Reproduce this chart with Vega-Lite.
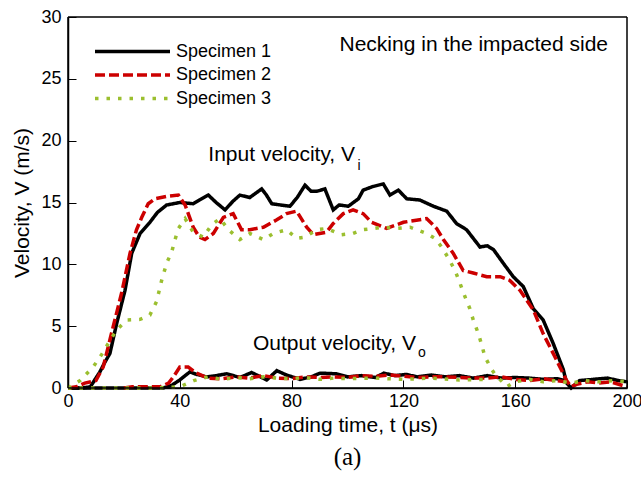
{
"$schema": "https://vega.github.io/schema/vega-lite/v6.json",
"width": 559, "height": 371,
"autosize": {"type": "none"},
"padding": {"left": 68, "top": 17, "right": 14, "bottom": 90},
"config": {
  "font": "Liberation Sans",
  "view": {"stroke": null},
  "axis": {"domain": true, "ticks": true, "domainColor": "black", "domainWidth": 1.5, "tickColor": "black", "tickWidth": 1, "labelColor": "black", "labelFontSize": 18, "labelFont": "Liberation Sans", "labelFlush": false, "labelOverlap": false, "titleFont": "Liberation Sans", "titleFontSize": 21, "titleFontWeight": "normal", "titleColor": "black", "grid": false}
},
"title": {"text": "(a)", "orient": "bottom", "font": "Liberation Serif", "fontSize": 25, "fontWeight": "normal", "color": "black", "offset": 10},
"datasets": {
"d": [
{"s":"Specimen 1","k":"i","t":0,"v":0},{"s":"Specimen 1","k":"i","t":5,"v":0},{"s":"Specimen 1","k":"i","t":8,"v":0.1},{"s":"Specimen 1","k":"i","t":11.4,"v":1.3},{"s":"Specimen 1","k":"i","t":13,"v":2.0},{"s":"Specimen 1","k":"i","t":15,"v":2.8},{"s":"Specimen 1","k":"i","t":17.4,"v":5.2},{"s":"Specimen 1","k":"i","t":20.4,"v":7.9},{"s":"Specimen 1","k":"i","t":22.8,"v":10.9},{"s":"Specimen 1","k":"i","t":25.8,"v":12.5},{"s":"Specimen 1","k":"i","t":29.3,"v":13.4},{"s":"Specimen 1","k":"i","t":32,"v":14.2},{"s":"Specimen 1","k":"i","t":35.3,"v":14.8},{"s":"Specimen 1","k":"i","t":40,"v":15.0},{"s":"Specimen 1","k":"i","t":44.8,"v":14.9},{"s":"Specimen 1","k":"i","t":47,"v":15.2},{"s":"Specimen 1","k":"i","t":50.2,"v":15.6},{"s":"Specimen 1","k":"i","t":53,"v":15.0},{"s":"Specimen 1","k":"i","t":56.2,"v":14.4},{"s":"Specimen 1","k":"i","t":59,"v":15.1},{"s":"Specimen 1","k":"i","t":61.5,"v":15.6},{"s":"Specimen 1","k":"i","t":65,"v":15.4},{"s":"Specimen 1","k":"i","t":69.3,"v":16.1},{"s":"Specimen 1","k":"i","t":71,"v":15.6},{"s":"Specimen 1","k":"i","t":72.9,"v":14.9},{"s":"Specimen 1","k":"i","t":76,"v":14.8},{"s":"Specimen 1","k":"i","t":79.4,"v":14.7},{"s":"Specimen 1","k":"i","t":82,"v":15.4},{"s":"Specimen 1","k":"i","t":84.8,"v":16.4},{"s":"Specimen 1","k":"i","t":87,"v":15.9},{"s":"Specimen 1","k":"i","t":89,"v":15.9},{"s":"Specimen 1","k":"i","t":91.9,"v":16.1},{"s":"Specimen 1","k":"i","t":94.9,"v":14.4},{"s":"Specimen 1","k":"i","t":97,"v":14.8},{"s":"Specimen 1","k":"i","t":100.3,"v":14.7},{"s":"Specimen 1","k":"i","t":103.9,"v":15.3},{"s":"Specimen 1","k":"i","t":105.6,"v":16.0},{"s":"Specimen 1","k":"i","t":109.2,"v":16.3},{"s":"Specimen 1","k":"i","t":112.8,"v":16.5},{"s":"Specimen 1","k":"i","t":115.2,"v":15.6},{"s":"Specimen 1","k":"i","t":118.2,"v":16.0},{"s":"Specimen 1","k":"i","t":121.2,"v":15.3},{"s":"Specimen 1","k":"i","t":125.9,"v":15.2},{"s":"Specimen 1","k":"i","t":130.7,"v":14.7},{"s":"Specimen 1","k":"i","t":135.5,"v":14.3},{"s":"Specimen 1","k":"i","t":139,"v":13.3},{"s":"Specimen 1","k":"i","t":142.6,"v":12.8},{"s":"Specimen 1","k":"i","t":147.4,"v":11.4},{"s":"Specimen 1","k":"i","t":150,"v":11.5},{"s":"Specimen 1","k":"i","t":152.2,"v":11.2},{"s":"Specimen 1","k":"i","t":155.7,"v":10.1},{"s":"Specimen 1","k":"i","t":159.3,"v":9.0},{"s":"Specimen 1","k":"i","t":162.9,"v":8.2},{"s":"Specimen 1","k":"i","t":166.5,"v":6.4},{"s":"Specimen 1","k":"i","t":170,"v":5.5},{"s":"Specimen 1","k":"i","t":173.6,"v":3.6},{"s":"Specimen 1","k":"i","t":177.2,"v":1.5},{"s":"Specimen 1","k":"i","t":178.4,"v":0.4},{"s":"Specimen 1","k":"i","t":180,"v":0.0},{"s":"Specimen 1","k":"i","t":183,"v":0.6},{"s":"Specimen 1","k":"i","t":188,"v":0.7},{"s":"Specimen 1","k":"i","t":193,"v":0.8},{"s":"Specimen 1","k":"i","t":197,"v":0.6},{"s":"Specimen 1","k":"i","t":200,"v":0.5},
{"s":"Specimen 1","k":"o","t":0,"v":0},{"s":"Specimen 1","k":"o","t":34,"v":0},{"s":"Specimen 1","k":"o","t":37,"v":0.2},{"s":"Specimen 1","k":"o","t":40,"v":0.65},{"s":"Specimen 1","k":"o","t":43.6,"v":1.3},{"s":"Specimen 1","k":"o","t":46,"v":1.1},{"s":"Specimen 1","k":"o","t":49.6,"v":0.9},{"s":"Specimen 1","k":"o","t":53,"v":1.0},{"s":"Specimen 1","k":"o","t":56.8,"v":1.15},{"s":"Specimen 1","k":"o","t":61.5,"v":0.85},{"s":"Specimen 1","k":"o","t":65.7,"v":1.25},{"s":"Specimen 1","k":"o","t":68,"v":1.0},{"s":"Specimen 1","k":"o","t":71.1,"v":0.65},{"s":"Specimen 1","k":"o","t":74.7,"v":1.4},{"s":"Specimen 1","k":"o","t":78.2,"v":1.05},{"s":"Specimen 1","k":"o","t":83,"v":0.7},{"s":"Specimen 1","k":"o","t":87,"v":0.9},{"s":"Specimen 1","k":"o","t":90.2,"v":1.2},{"s":"Specimen 1","k":"o","t":96,"v":1.15},{"s":"Specimen 1","k":"o","t":100,"v":0.9},{"s":"Specimen 1","k":"o","t":105,"v":1.0},{"s":"Specimen 1","k":"o","t":110,"v":0.85},{"s":"Specimen 1","k":"o","t":113,"v":1.2},{"s":"Specimen 1","k":"o","t":117,"v":1.0},{"s":"Specimen 1","k":"o","t":121,"v":1.1},{"s":"Specimen 1","k":"o","t":125,"v":0.9},{"s":"Specimen 1","k":"o","t":130,"v":1.05},{"s":"Specimen 1","k":"o","t":135,"v":0.9},{"s":"Specimen 1","k":"o","t":140,"v":1.0},{"s":"Specimen 1","k":"o","t":145,"v":0.8},{"s":"Specimen 1","k":"o","t":150,"v":1.0},{"s":"Specimen 1","k":"o","t":155,"v":0.8},{"s":"Specimen 1","k":"o","t":160,"v":0.85},{"s":"Specimen 1","k":"o","t":165,"v":0.8},{"s":"Specimen 1","k":"o","t":170,"v":0.7},{"s":"Specimen 1","k":"o","t":175,"v":0.75},{"s":"Specimen 1","k":"o","t":178,"v":0.6},
{"s":"Specimen 2","k":"i","t":0,"v":0},{"s":"Specimen 2","k":"i","t":3,"v":0.1},{"s":"Specimen 2","k":"i","t":6,"v":0.4},{"s":"Specimen 2","k":"i","t":10,"v":0.6},{"s":"Specimen 2","k":"i","t":12.6,"v":1.7},{"s":"Specimen 2","k":"i","t":16.2,"v":5.0},{"s":"Specimen 2","k":"i","t":19.2,"v":7.7},{"s":"Specimen 2","k":"i","t":22.2,"v":10.9},{"s":"Specimen 2","k":"i","t":24.5,"v":12.8},{"s":"Specimen 2","k":"i","t":26.4,"v":13.8},{"s":"Specimen 2","k":"i","t":28.7,"v":14.9},{"s":"Specimen 2","k":"i","t":31.1,"v":15.3},{"s":"Specimen 2","k":"i","t":35.3,"v":15.5},{"s":"Specimen 2","k":"i","t":39.5,"v":15.6},{"s":"Specimen 2","k":"i","t":41.9,"v":14.8},{"s":"Specimen 2","k":"i","t":44.8,"v":13.0},{"s":"Specimen 2","k":"i","t":47,"v":12.2},{"s":"Specimen 2","k":"i","t":49,"v":12.0},{"s":"Specimen 2","k":"i","t":52,"v":12.5},{"s":"Specimen 2","k":"i","t":55.6,"v":13.8},{"s":"Specimen 2","k":"i","t":59.1,"v":14.1},{"s":"Specimen 2","k":"i","t":62.1,"v":12.8},{"s":"Specimen 2","k":"i","t":65.1,"v":12.8},{"s":"Specimen 2","k":"i","t":69.9,"v":13.0},{"s":"Specimen 2","k":"i","t":74.7,"v":13.6},{"s":"Specimen 2","k":"i","t":78.2,"v":14.1},{"s":"Specimen 2","k":"i","t":81.8,"v":14.3},{"s":"Specimen 2","k":"i","t":85.4,"v":13.0},{"s":"Specimen 2","k":"i","t":87.8,"v":12.4},{"s":"Specimen 2","k":"i","t":92.5,"v":12.6},{"s":"Specimen 2","k":"i","t":94.9,"v":13.3},{"s":"Specimen 2","k":"i","t":98.5,"v":14.1},{"s":"Specimen 2","k":"i","t":102,"v":14.4},{"s":"Specimen 2","k":"i","t":105.6,"v":14.1},{"s":"Specimen 2","k":"i","t":108.6,"v":13.4},{"s":"Specimen 2","k":"i","t":114,"v":12.9},{"s":"Specimen 2","k":"i","t":120,"v":13.4},{"s":"Specimen 2","k":"i","t":128.3,"v":13.7},{"s":"Specimen 2","k":"i","t":131.9,"v":12.9},{"s":"Specimen 2","k":"i","t":134.3,"v":12.0},{"s":"Specimen 2","k":"i","t":137.8,"v":10.9},{"s":"Specimen 2","k":"i","t":141.4,"v":9.5},{"s":"Specimen 2","k":"i","t":145,"v":9.3},{"s":"Specimen 2","k":"i","t":149.8,"v":9.0},{"s":"Specimen 2","k":"i","t":154.6,"v":9.0},{"s":"Specimen 2","k":"i","t":158.1,"v":8.7},{"s":"Specimen 2","k":"i","t":161.7,"v":7.9},{"s":"Specimen 2","k":"i","t":166.5,"v":6.3},{"s":"Specimen 2","k":"i","t":170,"v":4.4},{"s":"Specimen 2","k":"i","t":173.6,"v":2.8},{"s":"Specimen 2","k":"i","t":176,"v":1.7},{"s":"Specimen 2","k":"i","t":178.4,"v":0.6},{"s":"Specimen 2","k":"i","t":180,"v":0.1},{"s":"Specimen 2","k":"i","t":182,"v":0.3},{"s":"Specimen 2","k":"i","t":186,"v":0.5},{"s":"Specimen 2","k":"i","t":190,"v":0.4},{"s":"Specimen 2","k":"i","t":194,"v":0.5},{"s":"Specimen 2","k":"i","t":197,"v":0.3},{"s":"Specimen 2","k":"i","t":200,"v":0.1},
{"s":"Specimen 2","k":"o","t":20,"v":0},{"s":"Specimen 2","k":"o","t":23,"v":0.1},{"s":"Specimen 2","k":"o","t":28,"v":0.1},{"s":"Specimen 2","k":"o","t":33,"v":0.1},{"s":"Specimen 2","k":"o","t":36,"v":0.4},{"s":"Specimen 2","k":"o","t":38,"v":1.0},{"s":"Specimen 2","k":"o","t":40,"v":1.7},{"s":"Specimen 2","k":"o","t":43,"v":1.7},{"s":"Specimen 2","k":"o","t":46,"v":1.2},{"s":"Specimen 2","k":"o","t":50,"v":0.8},{"s":"Specimen 2","k":"o","t":55,"v":0.75},{"s":"Specimen 2","k":"o","t":60,"v":0.9},{"s":"Specimen 2","k":"o","t":65,"v":0.8},{"s":"Specimen 2","k":"o","t":70,"v":1.0},{"s":"Specimen 2","k":"o","t":75,"v":0.8},{"s":"Specimen 2","k":"o","t":80,"v":0.75},{"s":"Specimen 2","k":"o","t":85,"v":0.9},{"s":"Specimen 2","k":"o","t":90,"v":0.85},{"s":"Specimen 2","k":"o","t":95,"v":0.9},{"s":"Specimen 2","k":"o","t":100,"v":0.85},{"s":"Specimen 2","k":"o","t":105,"v":1.0},{"s":"Specimen 2","k":"o","t":110,"v":0.95},{"s":"Specimen 2","k":"o","t":115,"v":1.05},{"s":"Specimen 2","k":"o","t":120,"v":0.95},{"s":"Specimen 2","k":"o","t":125,"v":0.85},{"s":"Specimen 2","k":"o","t":130,"v":0.9},{"s":"Specimen 2","k":"o","t":135,"v":0.9},{"s":"Specimen 2","k":"o","t":140,"v":0.85},{"s":"Specimen 2","k":"o","t":145,"v":0.8},{"s":"Specimen 2","k":"o","t":150,"v":0.8},{"s":"Specimen 2","k":"o","t":155,"v":0.9},{"s":"Specimen 2","k":"o","t":160,"v":0.7},{"s":"Specimen 2","k":"o","t":165,"v":0.6},{"s":"Specimen 2","k":"o","t":170,"v":0.75},{"s":"Specimen 2","k":"o","t":175,"v":0.6},{"s":"Specimen 2","k":"o","t":178,"v":0.5},
{"s":"Specimen 3","k":"i","t":0,"v":0},{"s":"Specimen 3","k":"i","t":2,"v":0.3},{"s":"Specimen 3","k":"i","t":4.3,"v":0.6},{"s":"Specimen 3","k":"i","t":9,"v":1.7},{"s":"Specimen 3","k":"i","t":12,"v":2.7},{"s":"Specimen 3","k":"i","t":14.4,"v":3.6},{"s":"Specimen 3","k":"i","t":17.4,"v":4.7},{"s":"Specimen 3","k":"i","t":21,"v":5.5},{"s":"Specimen 3","k":"i","t":25.8,"v":5.55},{"s":"Specimen 3","k":"i","t":29.3,"v":5.9},{"s":"Specimen 3","k":"i","t":31.7,"v":7.0},{"s":"Specimen 3","k":"i","t":33.5,"v":8.7},{"s":"Specimen 3","k":"i","t":35.3,"v":10.1},{"s":"Specimen 3","k":"i","t":37.1,"v":11.0},{"s":"Specimen 3","k":"i","t":38.3,"v":12.0},{"s":"Specimen 3","k":"i","t":39.5,"v":12.9},{"s":"Specimen 3","k":"i","t":41.9,"v":13.7},{"s":"Specimen 3","k":"i","t":44.8,"v":12.6},{"s":"Specimen 3","k":"i","t":48.4,"v":12.2},{"s":"Specimen 3","k":"i","t":51.4,"v":13.2},{"s":"Specimen 3","k":"i","t":54.4,"v":13.7},{"s":"Specimen 3","k":"i","t":57.4,"v":12.8},{"s":"Specimen 3","k":"i","t":61.5,"v":12.0},{"s":"Specimen 3","k":"i","t":65.1,"v":12.5},{"s":"Specimen 3","k":"i","t":69.9,"v":12.0},{"s":"Specimen 3","k":"i","t":73.5,"v":12.5},{"s":"Specimen 3","k":"i","t":78.2,"v":12.8},{"s":"Specimen 3","k":"i","t":81.8,"v":12.1},{"s":"Specimen 3","k":"i","t":84.8,"v":12.2},{"s":"Specimen 3","k":"i","t":89,"v":12.8},{"s":"Specimen 3","k":"i","t":92.5,"v":12.9},{"s":"Specimen 3","k":"i","t":97.9,"v":12.4},{"s":"Specimen 3","k":"i","t":102,"v":12.5},{"s":"Specimen 3","k":"i","t":105.6,"v":12.8},{"s":"Specimen 3","k":"i","t":112.8,"v":13.0},{"s":"Specimen 3","k":"i","t":117.6,"v":12.9},{"s":"Specimen 3","k":"i","t":122.4,"v":13.0},{"s":"Specimen 3","k":"i","t":124.8,"v":12.8},{"s":"Specimen 3","k":"i","t":128.3,"v":12.5},{"s":"Specimen 3","k":"i","t":131.3,"v":12.1},{"s":"Specimen 3","k":"i","t":133.7,"v":11.4},{"s":"Specimen 3","k":"i","t":136.1,"v":10.5},{"s":"Specimen 3","k":"i","t":138.5,"v":9.5},{"s":"Specimen 3","k":"i","t":140.2,"v":8.5},{"s":"Specimen 3","k":"i","t":142,"v":7.4},{"s":"Specimen 3","k":"i","t":143.8,"v":6.4},{"s":"Specimen 3","k":"i","t":145,"v":5.5},{"s":"Specimen 3","k":"i","t":146.8,"v":4.4},{"s":"Specimen 3","k":"i","t":148,"v":3.5},{"s":"Specimen 3","k":"i","t":149.2,"v":2.5},{"s":"Specimen 3","k":"i","t":151.6,"v":1.5},{"s":"Specimen 3","k":"i","t":153.4,"v":0.9},{"s":"Specimen 3","k":"i","t":155,"v":0.6},{"s":"Specimen 3","k":"i","t":157,"v":0.1},{"s":"Specimen 3","k":"i","t":160,"v":0.5},{"s":"Specimen 3","k":"i","t":165,"v":0.7},{"s":"Specimen 3","k":"i","t":170,"v":0.5},{"s":"Specimen 3","k":"i","t":175,"v":0.6},{"s":"Specimen 3","k":"i","t":180,"v":0.4},{"s":"Specimen 3","k":"i","t":185,"v":0.6},{"s":"Specimen 3","k":"i","t":190,"v":0.5},{"s":"Specimen 3","k":"i","t":195,"v":0.6},{"s":"Specimen 3","k":"i","t":200,"v":0.5},
{"s":"Specimen 3","k":"o","t":0,"v":0},{"s":"Specimen 3","k":"o","t":10,"v":0},{"s":"Specimen 3","k":"o","t":20,"v":0},{"s":"Specimen 3","k":"o","t":30,"v":0},{"s":"Specimen 3","k":"o","t":40,"v":0.1},{"s":"Specimen 3","k":"o","t":45,"v":0.6},{"s":"Specimen 3","k":"o","t":50,"v":0.9},{"s":"Specimen 3","k":"o","t":55,"v":0.7},{"s":"Specimen 3","k":"o","t":60,"v":0.85},{"s":"Specimen 3","k":"o","t":65,"v":0.75},{"s":"Specimen 3","k":"o","t":70,"v":0.9},{"s":"Specimen 3","k":"o","t":75,"v":0.8},{"s":"Specimen 3","k":"o","t":80,"v":0.75},{"s":"Specimen 3","k":"o","t":85,"v":0.85},{"s":"Specimen 3","k":"o","t":90,"v":0.7},{"s":"Specimen 3","k":"o","t":95,"v":0.8},{"s":"Specimen 3","k":"o","t":100,"v":0.75},{"s":"Specimen 3","k":"o","t":110,"v":0.8},{"s":"Specimen 3","k":"o","t":120,"v":0.7},{"s":"Specimen 3","k":"o","t":130,"v":0.8},{"s":"Specimen 3","k":"o","t":140,"v":0.65},{"s":"Specimen 3","k":"o","t":150,"v":0.7}
],
"ann": [
{"t":102.7,"v":18.84,"label":"Input velocity, V"},
{"t":124.5,"v":3.56,"label":"Output velocity, V"},
{"t":193.2,"v":27.73,"label":"Necking in the impacted side"}
],
"sub": [
{"t":103.6,"v":17.95,"label":"i"},
{"t":125.2,"v":2.8,"label":"o"}
]
},
"layer": [
{
 "data": {"name": "d"},
 "mark": {"type": "line", "strokeWidth": 3.5},
 "encoding": {
  "x": {"field": "t", "type": "quantitative", "scale": {"domain": [0, 200], "nice": false}, "axis": {"orient": "bottom", "values": [0,40,80,120,160,200], "tickSize": -8, "tickColor": "black", "domainColor": "black", "labelPadding": 12, "title": "Loading time, t (μs)", "titlePadding": 4}},
  "y": {"field": "v", "type": "quantitative", "scale": {"domain": [0, 30], "nice": false}, "axis": {"orient": "left", "values": [0,5,10,15,20,25,30], "tickSize": -8, "tickColor": "black", "domainColor": "black", "labelPadding": 15, "title": "Velocity, V (m/s)", "titlePadding": 8}},
  "color": {"field": "s", "type": "nominal", "scale": {"range": ["#000000", "#cc0000", "#9bbf2f"]}, "legend": {"orient": "none", "legendX": 55, "legendY": 25, "padding": 0, "title": null, "symbolType": "M-5,0H5", "symbolSize": 225, "symbolStrokeWidth": 3.5, "labelFontSize": 18, "labelColor": "black", "labelOffset": 34, "rowPadding": 4.5}},
  "strokeDash": {"field": "s", "type": "nominal", "scale": {"range": [[1, 0], [10, 4], [3.5, 8]]}, "legend": {"orient": "none", "legendX": 55, "legendY": 25, "padding": 0, "title": null, "symbolType": "M-5,0H5", "symbolSize": 225, "symbolStrokeWidth": 3.5, "labelFontSize": 18, "labelColor": "black", "labelOffset": 34, "rowPadding": 4.5}},
  "detail": {"field": "k"}
 }
},
{
 "data": {"values": [{}]},
 "mark": {"type": "rule", "color": "black", "strokeWidth": 1.5},
 "encoding": {"x": {"datum": 0, "type": "quantitative"}}
},
{
 "data": {"values": [{}]},
 "mark": {"type": "rule", "color": "black", "strokeWidth": 1.5},
 "encoding": {"x": {"datum": 200, "type": "quantitative"}}
},
{
 "data": {"values": [{}]},
 "mark": {"type": "rule", "color": "black", "strokeWidth": 1.5},
 "encoding": {"y": {"datum": 0, "type": "quantitative"}}
},
{
 "data": {"values": [{}]},
 "mark": {"type": "rule", "color": "black", "strokeWidth": 1.5},
 "encoding": {"y": {"datum": 30, "type": "quantitative"}}
},
{
 "data": {"name": "ann"},
 "mark": {"type": "text", "align": "right", "baseline": "middle", "fontSize": 21, "color": "black"},
 "encoding": {
  "x": {"field": "t", "type": "quantitative"},
  "y": {"field": "v", "type": "quantitative"},
  "text": {"field": "label"}
 }
},
{
 "data": {"name": "sub"},
 "mark": {"type": "text", "align": "left", "baseline": "middle", "fontSize": 14, "color": "black"},
 "encoding": {
  "x": {"field": "t", "type": "quantitative"},
  "y": {"field": "v", "type": "quantitative"},
  "text": {"field": "label"}
 }
}
]
}
